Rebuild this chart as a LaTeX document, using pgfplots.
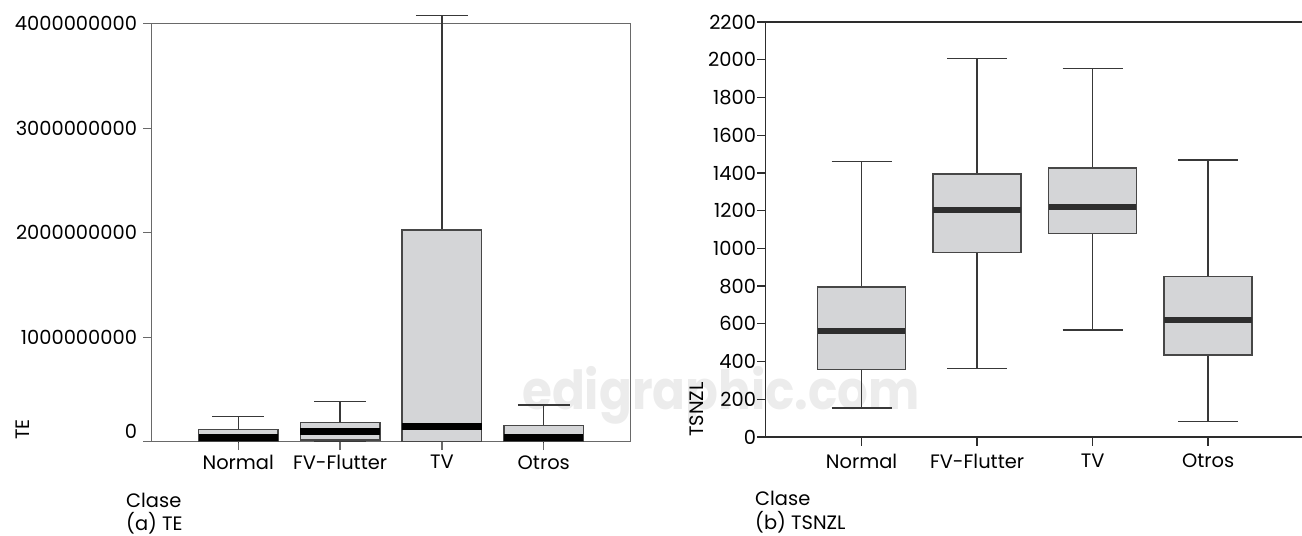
\documentclass[border=0pt]{standalone}
\usepackage{pgfplots}
\pgfplotsset{compat=1.18}
\usepgfplotslibrary{statistics}
\usepackage{fontspec}
\setmainfont{Poppins}
\definecolor{boxfill}{RGB}{212,213,215}
\definecolor{frameL}{RGB}{105,105,105}
\definecolor{frameR}{RGB}{45,45,45}
\definecolor{wm}{RGB}{236,236,236}
\begin{document}
\begin{tikzpicture}
\path[use as bounding box] (0bp,0bp) rectangle (1302bp,536bp);
% watermark
\node[anchor=base west, text=wm, font=\fontsize{54}{60}\selectfont\bfseries, inner sep=0pt, xscale=0.9] at (522bp,126bp) {edigraphic.com};
\pgfplotsset{
  mybox/.style={
    boxplot/draw direction=y,
    boxplot/box extend=0.78,
    boxplot/whisker extend=0.51,
    boxplot/every box/.style={draw=black!72, line width=1.5bp, fill=boxfill},
    boxplot/every whisker/.style={draw=black!78, line width=1.3bp},
    boxplot/every median/.style={draw=black, line width=7bp},
  },
  base/.style={
    scale only axis,
    anchor=south west,
    font=\fontsize{19.5}{23}\selectfont,
    tick align=outside,
    xtick pos=left, ytick pos=left,
    major tick length=8.5bp,
    xtick={1,2,3,4},
    xticklabels={Normal,FV-Flutter,TV,Otros},
    yticklabel style={inner sep=0pt},
    xticklabel style={inner sep=0pt},
  }
}
\begin{axis}[base,
  at={(151.7bp,94.3bp)},
  width=478.6bp, height=418bp,
  xmin=0.15, xmax=4.85, ymin=0, ymax=4,
  clip=false,
  ytick={0,1,2,3,4},
  yticklabels={\raisebox{21bp}{0},1000000000,2000000000,3000000000,4000000000},
  axis line style={frameL, line width=1.3bp},
  every tick/.style={frameL, line width=1.3bp},
  yticklabel style={xshift=-6bp},
  xticklabel style={yshift=-5bp},
  mybox,
]
% values in units of 1e9
\addplot[boxplot prepared={lower whisker=0, lower quartile=0.001, median=0.038, upper quartile=0.119, upper whisker=0.239, draw position=1}] coordinates {};
\addplot[boxplot prepared={lower whisker=0, lower quartile=0.016, median=0.096, upper quartile=0.182, upper whisker=0.383, draw position=2}] coordinates {};
\addplot[boxplot prepared={lower whisker=0, lower quartile=0.002, median=0.1435, upper quartile=2.026, upper whisker=4.08, draw position=3}] coordinates {};
\addplot[boxplot prepared={lower whisker=0, lower quartile=0.001, median=0.040, upper quartile=0.157, upper whisker=0.351, draw position=4}] coordinates {};
\end{axis}
\node[anchor=west, inner sep=0pt, font=\fontsize{19.5}{23}\selectfont] at (126bp,36bp) {Clase};
\node[anchor=west, inner sep=0pt, font=\fontsize{19.5}{23}\selectfont] at (126bp,13bp) {(a) TE};
\node[rotate=90, anchor=west, inner sep=0pt, font=\fontsize{19.5}{23}\selectfont] at (23bp,96bp) {TE};

\begin{axis}[base,
  at={(765.7bp,99bp)},
  width=536.3bp, height=415bp,
  xmin=0.17, xmax=4.813, ymin=0, ymax=2.2,
  axis x line*=box, axis y line*=left,
  ytick={0,0.2,0.4,0.6,0.8,1,1.2,1.4,1.6,1.8,2,2.2},
  yticklabels={0,200,400,600,800,1000,1200,1400,1600,1800,2000,2200},
  axis line style={frameR, line width=1.3bp, -},
  every tick/.style={frameR, line width=1.3bp},
  yticklabel style={xshift=-1bp},
  xticklabel style={yshift=-8bp},
  mybox,
  boxplot/box extend=0.76,
  boxplot/whisker extend=0.52,
  boxplot/every median/.style={draw=black!82, line width=6bp},
]
% values in thousands
\addplot[boxplot prepared={lower whisker=0.154, lower quartile=0.358, median=0.561, upper quartile=0.796, upper whisker=1.462, draw position=1}] coordinates {};
\addplot[boxplot prepared={lower whisker=0.362, lower quartile=0.979, median=1.205, upper quartile=1.393, upper whisker=2.005, draw position=2}] coordinates {};
\addplot[boxplot prepared={lower whisker=0.568, lower quartile=1.078, median=1.221, upper quartile=1.427, upper whisker=1.954, draw position=3}] coordinates {};
\addplot[boxplot prepared={lower whisker=0.081, lower quartile=0.434, median=0.620, upper quartile=0.850, upper whisker=1.469, draw position=4}] coordinates {};
\end{axis}
\node[anchor=west, inner sep=0pt, font=\fontsize{19.5}{23}\selectfont] at (755bp,38bp) {Clase};
\node[anchor=west, inner sep=0pt, font=\fontsize{19.5}{23}\selectfont] at (755bp,14bp) {(b) TSNZL};
\node[rotate=90, anchor=west, inner sep=0pt, font=\fontsize{19.5}{23}\selectfont] at (697bp,99bp) {TSNZL};
\end{tikzpicture}
\end{document}
